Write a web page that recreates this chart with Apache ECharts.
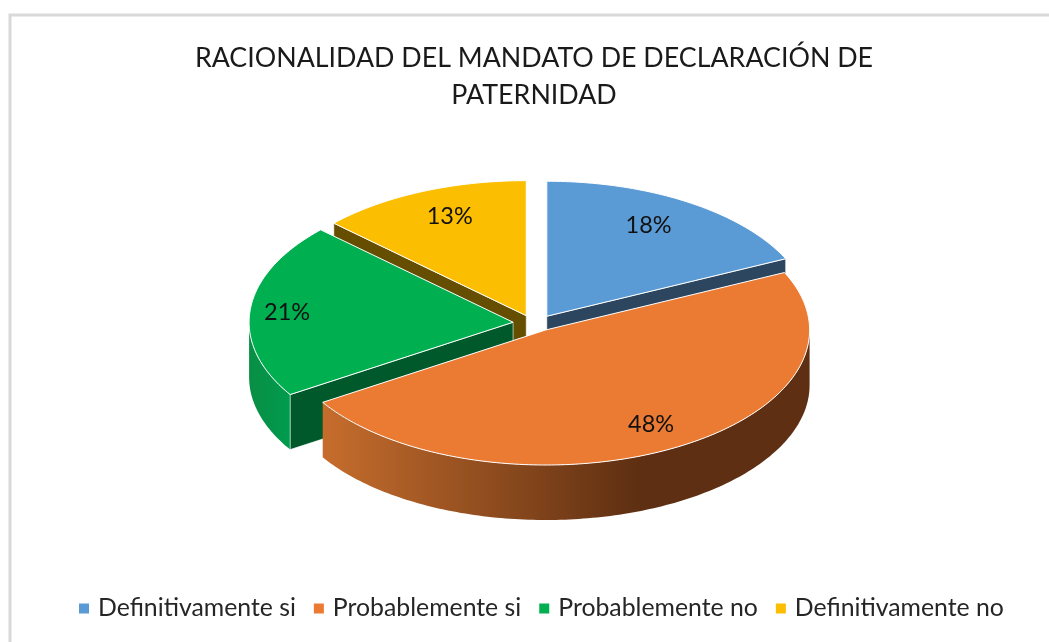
<!DOCTYPE html>
<html>
<head>
<meta charset="utf-8">
<style>
  html, body { margin: 0; padding: 0; background: #fff; }
  #chart { width: 1049px; height: 642px; }
</style>
<script src="https://cdn.jsdelivr.net/npm/echarts@6/dist/echarts.min.js"></script>
</head>
<body>
<div id="chart"></div>
<script>
var titleText = 'RACIONALIDAD DEL MANDATO DE DECLARACIÓN DE\nPATERNIDAD';
var categories = ['Definitivamente si', 'Probablemente si', 'Probablemente no', 'Definitivamente no'];
var shares = [18, 48, 21, 13];

var topColors = ['#5b9bd5', '#eb7b32', '#00b050', '#fcbe00'];
var cutColors = ['#2c465f', '#5e2f12', '#00592a', '#664e00'];
// back to front, the legend keeps its own order
var drawOrder = [2, 4, 3, 1];
var labelFx = [0.72, 0.83, 0.86, 0.73];

var cx = 535, cy = 323;
var rx = 264, ry = 135, depth = 55;
var explodeX = 22, explodeY = 8;

var total = shares.reduce(function (a, b) { return a + b; }, 0);
var rad = Math.PI / 180;

function wallFill(i) {
  if (i === 1) {
    return new echarts.graphic.LinearGradient(0, 0, 1, 0, [
      { offset: 0, color: '#c66d2d' },
      { offset: 0.65, color: '#5e2f12' },
      { offset: 1, color: '#5e2f12' }
    ]);
  }
  if (i === 2) {
    return new echarts.graphic.LinearGradient(0, 0, 1, 0, [
      { offset: 0, color: '#098e45' },
      { offset: 1, color: '#009c4e' }
    ]);
  }
  return cutColors[i];
}

function arcPoints(ax, ay, from, to) {
  var pts = [];
  var n = Math.max(2, Math.ceil(to - from));
  for (var k = 0; k <= n; k++) {
    var a = (from + (to - from) * k / n) * rad;
    pts.push([ax + rx * Math.sin(a), ay - ry * Math.cos(a)]);
  }
  return pts;
}

function drop(pts) {
  return pts.map(function (p) { return [p[0], p[1] + depth]; });
}

function cutWall(ax, ay, angle, i) {
  var edge = [[ax, ay], [ax + rx * Math.sin(angle * rad), ay - ry * Math.cos(angle * rad)]];
  var pts = edge.concat(drop(edge).reverse());
  return {
    type: 'polygon',
    shape: { points: pts },
    style: { fill: cutColors[i], stroke: '#fff', lineWidth: 0.6 }
  };
}

function renderSlice(i) {
  return function (params, api) {
    var before = 0;
    for (var k = 0; k < i; k++) before += shares[k];
    var start = before / total * 360;
    var end = start + api.value(0) / total * 360;
    var mid = (start + end) / 2;
    var ax = cx + explodeX * Math.sin(mid * rad);
    var ay = cy - explodeY * Math.cos(mid * rad);
    var children = [];

    // outer wall, only the part turned to the viewer
    var from = Math.max(start, 90), to = Math.min(end, 270);
    if (to > from) {
      var rim = arcPoints(ax, ay, from, to);
      children.push({
        type: 'polygon',
        shape: { points: rim.concat(drop(rim).reverse()) },
        style: { fill: wallFill(i) }
      });
    }
    // cut faces
    if (Math.sin(start * rad) < -0.01) children.push(cutWall(ax, ay, start, i));
    if (Math.sin(end * rad) > 0.01) children.push(cutWall(ax, ay, end, i));

    children.push({
      type: 'polygon',
      shape: { points: [[ax, ay]].concat(arcPoints(ax, ay, start, end)) },
      style: { fill: topColors[i], stroke: '#fff', lineWidth: 1 }
    });
    children.push({
      type: 'text',
      style: {
        text: Math.round(api.value(0) / total * 100) + '%',
        x: ax + rx * labelFx[i] * Math.sin(mid * rad),
        y: ay - ry * 0.8 * Math.cos(mid * rad),
        align: 'center',
        verticalAlign: 'middle',
        fill: '#111',
        font: '23.5px Lato'
      }
    });
    return { type: 'group', children: children };
  };
}

var myChart = echarts.init(document.getElementById('chart'));
var option = {
  backgroundColor: '#fff',
  animation: false,
  title: {
    text: titleText,
    left: 529,
    top: 35,
    textAlign: 'center',
    textStyle: {
      color: '#1a1a1a',
      fontFamily: 'Lato',
      fontWeight: 'normal',
      fontSize: 26.8,
      lineHeight: 37
    }
  },
  legend: {
    data: categories,
    left: 74,
    top: 591,
    icon: 'rect',
    itemWidth: 10,
    itemHeight: 10,
    itemGap: 18,
    textStyle: { color: '#262626', fontFamily: 'Lato', fontSize: 24.8, padding: [0, 0, 0, 4] }
  },
  graphic: [{
    type: 'rect',
    silent: true,
    shape: { x: 10, y: 15, width: 1100, height: 700 },
    style: { fill: 'none', stroke: '#d9d9d9', lineWidth: 3 }
  }],
  series: categories.map(function (name, i) {
    return {
      type: 'custom',
      name: name,
      coordinateSystem: 'none',
      z: drawOrder[i],
      itemStyle: { color: topColors[i] },
      data: [[shares[i]]],
      renderItem: renderSlice(i)
    };
  })
};
myChart.setOption(option);
window.onresize = function () {
  myChart.resize();
};
</script>
</body>
</html>
